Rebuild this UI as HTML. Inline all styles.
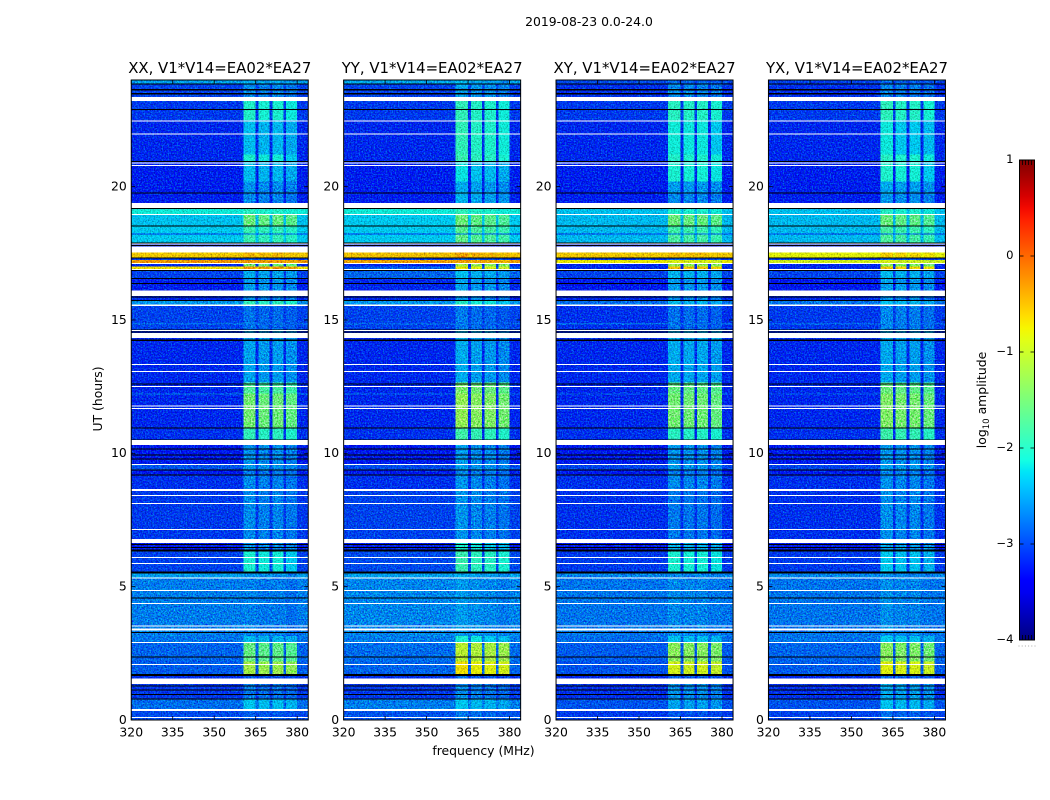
<!DOCTYPE html>
<html lang="en">
<head>
<meta charset="utf-8">
<title>2019-08-23 0.0-24.0</title>
<style>
html,body{margin:0;padding:0;background:#fff;width:1050px;height:800px;overflow:hidden}
svg{display:block;font-family:"DejaVu Sans","Liberation Sans",sans-serif;fill:#000}
text{font-size:12.4px}
.ttl{font-size:14.9px}
.panel{isolation:isolate}
.speckle{mix-blend-mode:overlay}
.glow{mix-blend-mode:screen}
</style>
</head>
<body>
<svg id="fig" xmlns="http://www.w3.org/2000/svg" width="1050" height="800" viewBox="0 0 1050 800">
<defs>
<filter id="grain" x="0" y="0" width="100%" height="100%" color-interpolation-filters="sRGB">
<feTurbulence type="fractalNoise" baseFrequency="0.62" numOctaves="2" seed="7"/>
<feColorMatrix type="matrix" values="1 0 0 0 0  1 0 0 0 0  1 0 0 0 0  0 0 0 0 1"/>
<feComponentTransfer><feFuncR type="linear" slope="1.2" intercept="-0.1"/><feFuncG type="linear" slope="1.2" intercept="-0.1"/><feFuncB type="linear" slope="1.2" intercept="-0.1"/></feComponentTransfer>
</filter>
<filter id="grain-glow" x="0" y="0" width="100%" height="100%" color-interpolation-filters="sRGB">
<feTurbulence type="fractalNoise" baseFrequency="0.66" numOctaves="2" seed="23"/>
<feColorMatrix type="matrix" values="0 0 0 0 0  1.2 0 0 0 -0.5  0 0 0 0 0  0 0 0 0 1"/>
</filter>
<filter id="grain-dark" x="0" y="0" width="100%" height="100%" color-interpolation-filters="sRGB">
<feTurbulence type="fractalNoise" baseFrequency="0.7" numOctaves="2" seed="41"/>
<feColorMatrix type="matrix" values="0 0 0 0 0  0 0 0 0 0  0 0 0 0 0  0.9 0 0 0 -0.39"/>
</filter>
<linearGradient id="jet-grad" x1="0" y1="1" x2="0" y2="0"></linearGradient>
</defs>
<text x="589" y="26" text-anchor="middle">2019-08-23 0.0-24.0</text>
<text x="483.5" y="755" text-anchor="middle">frequency (MHz)</text>
<text transform="translate(102,399) rotate(-90)" text-anchor="middle">UT (hours)</text>
<text transform="translate(986,400) rotate(-90)" text-anchor="middle">log<tspan dy="3" style="font-size:8.6px">10</tspan><tspan dy="-3"> amplitude</tspan></text>
<g id="panels"></g>
<g id="colorbar"></g>
</svg>
<script>
// ---- chart data ----
const panelNames = ["XX", "YY", "XY", "YX"];
const panelTitles = ["XX, V1*V14=EA02*EA27", "YY, V1*V14=EA02*EA27", "XY, V1*V14=EA02*EA27", "YX, V1*V14=EA02*EA27"];
const freqTicks = [320, 335, 350, 365, 380];
const utTicks = [0, 5, 10, 15, 20];
const cbarTicks = [-4, -3, -2, -1, 0, 1];
const cbarLabels = ["\u22124", "\u22123", "\u22122", "\u22121", "0", "1"];
const cbarMinorTicks = [0.2, 0.4, 0.6, 0.8];

// receiver sub-bands (MHz)
const bandLow = [360.5, 366, 371, 376];
const bandHigh = [365, 370, 375, 380];

// start UT (hours) of each brightness segment
const segStart = [0,0.36,0.78,1.55,1.72,2.20,2.92,3.15,5.35,5.56,6.32,6.79,8.66,9.20,9.40,9.56,10.50,10.97,12.20,12.24,12.65,14.65,14.84,14.88,15.59,15.74,16.10,16.57,16.89,17.01,17.13,17.25,17.35,17.53,17.91,18.20,18.24,18.55,18.97,19.39,19.79,20.20,20.96,21.20,22.50,23.36,23.85];

// log10 amplitude outside the sub-bands
const bgXX = [-3.00,-2.80,-3.10,-3.15,-2.90,-2.85,-2.75,-2.70,-2.50,-3.05,-3.30,-3.10,-3.15,-3.30,-2.95,-3.30,-3.15,-3.20,-2.70,-3.20,-3.20,-3.05,-2.80,-3.05,-2.55,-3.20,-3.25,-3.05,-0.70,-3.20,-0.25,-3.10,-0.55,-3.20,-2.25,-3.10,-2.25,-2.30,-2.15,-3.25,-3.25,-3.25,-3.20,-3.20,-3.10,-3.05,-2.50];
const bgYY = [-2.95,-2.70,-3.10,-3.15,-2.85,-2.80,-2.70,-2.65,-2.50,-3.00,-3.25,-3.05,-3.15,-3.30,-3.00,-3.30,-3.15,-3.20,-2.80,-3.20,-3.20,-3.05,-2.85,-3.05,-2.55,-3.20,-3.20,-2.85,-2.90,-3.20,-0.30,-3.10,-0.50,-3.20,-2.25,-3.10,-2.25,-2.25,-2.15,-3.25,-3.25,-3.25,-3.20,-3.20,-3.10,-3.05,-2.45];
const bgXY = [-3.10,-2.95,-3.15,-3.20,-2.95,-2.90,-2.80,-2.75,-2.65,-3.10,-3.35,-3.15,-3.15,-3.30,-3.05,-3.30,-3.15,-3.20,-2.90,-3.20,-3.20,-3.15,-2.80,-3.15,-2.80,-3.20,-3.30,-3.05,-3.20,-3.20,-0.75,-3.10,-0.55,-3.20,-2.35,-3.10,-2.35,-2.35,-2.30,-3.25,-3.25,-3.25,-3.20,-3.20,-3.10,-3.15,-3.00];
const bgYX = [-3.05,-2.95,-3.15,-3.20,-2.90,-2.85,-2.75,-2.75,-2.65,-3.10,-3.35,-3.15,-3.15,-3.30,-3.05,-3.30,-3.15,-3.20,-2.90,-3.20,-3.20,-3.10,-2.85,-3.10,-2.75,-3.20,-3.30,-3.05,-3.20,-3.20,-0.90,-3.10,-0.80,-3.20,-2.35,-3.10,-2.35,-2.35,-2.30,-3.25,-3.25,-3.25,-3.20,-3.20,-3.10,-3.15,-3.05];

// log10 amplitude inside the sub-bands
const bandXX = [-2.85,-2.25,-2.70,-2.90,-1.20,-1.60,-2.30,-2.65,-2.55,-2.10,-2.55,-2.60,-2.60,-2.70,-2.50,-2.55,-1.95,-1.50,-1.50,-1.75,-2.45,-2.75,-2.75,-2.75,-1.95,-2.60,-2.50,-2.40,-0.20,-1.50,-0.25,-2.90,-0.40,-3.20,-1.90,-2.80,-1.90,-1.55,-2.00,-2.60,-2.55,-2.30,-2.10,-2.30,-2.05,-2.60,-2.40];
const bandYY = [-2.75,-2.30,-2.65,-2.85,-0.75,-1.10,-2.15,-2.55,-2.45,-1.95,-2.15,-2.60,-2.60,-2.65,-2.50,-2.55,-1.90,-1.35,-1.35,-1.50,-2.45,-2.75,-2.75,-2.75,-2.10,-2.60,-2.50,-2.35,-0.80,-1.30,-0.30,-2.90,-0.35,-3.20,-1.70,-2.80,-1.75,-1.60,-2.00,-2.40,-2.45,-2.25,-1.95,-2.00,-2.00,-2.50,-2.40];
const bandXY = [-2.90,-2.45,-2.55,-2.85,-0.90,-1.35,-2.25,-2.60,-2.60,-2.10,-2.35,-2.70,-2.60,-2.70,-2.50,-2.55,-2.00,-1.50,-1.50,-1.60,-2.40,-2.75,-2.75,-2.75,-2.30,-2.60,-2.50,-2.35,-0.50,-1.30,-0.85,-2.90,-0.45,-3.20,-1.80,-2.80,-1.85,-1.55,-2.05,-2.60,-2.50,-2.10,-2.05,-2.15,-2.00,-2.60,-2.80];
const bandYX = [-2.80,-2.30,-2.45,-2.80,-0.85,-1.40,-2.25,-2.60,-2.60,-2.25,-2.45,-2.60,-2.60,-2.65,-2.50,-2.55,-1.90,-1.45,-1.45,-1.60,-2.45,-2.65,-2.65,-2.65,-2.30,-2.60,-2.50,-2.35,-0.60,-1.40,-0.90,-2.90,-0.60,-3.20,-1.80,-2.80,-1.85,-1.60,-2.05,-2.55,-2.45,-2.10,-2.05,-2.20,-2.00,-2.65,-2.80];

// per sub-band amplitude offset, one row per polarisation
const bandOffsetXX = [0, -0.06, -0.04, -0.12];
const bandOffsetYY = [0.05, -0.03, -0.07, -0.15];
const bandOffsetXY = [0, -0.03, -0.03, -0.1];
const bandOffsetYX = [0.03, -0.03, -0.03, -0.12];

// flagged time ranges with no data (start, end UT)
const flagStart = [0.075,0.34,1.35,2.06,2.89,3.35,3.51,4.35,4.84,5.32,5.85,6.08,6.64,7.13,8.10,8.41,8.59,9.56,10.31,10.35,11.67,11.77,12.49,13.05,13.31,14.33,14.59,15.53,15.90,16.89,17.10,17.53,17.84,18.93,19.20,20.79,20.87,21.96,22.46,23.21];
const flagEnd   = [0.11,0.41,1.55,2.10,2.92,3.43,3.55,4.38,4.87,5.35,5.88,6.11,6.79,7.16,8.13,8.44,8.66,9.60,10.35,10.50,11.70,11.80,12.53,13.08,13.35,14.52,14.63,15.59,16.10,16.91,17.13,17.75,17.87,18.97,19.39,20.81,20.90,21.99,22.49,23.36];

// zero-amplitude time ranges (start, end UT)
const zeroStart = [0.776,0.9375,1.114,1.268,1.65,2.35,3.28,4.575,5.50,6.31,6.47,6.575,9.19,9.36,9.79,9.94,10.16,10.49,10.95,12.60,14.22,14.54,14.625,15.72,15.86,16.36,16.55,16.85,17.31,17.80,17.87,18.53,19.16,19.76,20.94,22.89,23.46,23.61,23.84];
const zeroEnd   = [0.806,0.967,1.144,1.294,1.725,2.375,3.30,4.60,5.56,6.40,6.49,6.60,9.21,9.39,9.81,9.96,10.19,10.51,10.975,12.625,14.26,14.56,14.65,15.75,15.89,16.39,16.58,16.87,17.35,17.82,17.91,18.55,19.20,19.79,20.96,22.91,23.51,23.66,23.87];

// ---- lookup by polarisation ----
const bgByPanel = [bgXX, bgYY, bgXY, bgYX];
const bandByPanel = [bandXX, bandYY, bandXY, bandYX];
const offsetByPanel = [bandOffsetXX, bandOffsetYY, bandOffsetXY, bandOffsetYX];

// ---- layout ----
const panelLeft = [131.25, 343.65, 556.05, 768.45];
const panelWidth = 177, plotTop = 80, plotBottom = 720;
const freqMin = 320, freqMax = 384, utMin = 0, utMax = 24;
const cbarX0 = 1019.5, cbarX1 = 1034.5, cbarTop = 160, cbarBottom = 640;
const ampMin = -4, ampMax = 1;

const NS = "http://www.w3.org/2000/svg";
function make(parent, tag, attrs) {
  const el = document.createElementNS(NS, tag);
  for (const k in attrs) el.setAttribute(k, attrs[k]);
  parent.appendChild(el);
  return el;
}
function xScale(f, p) { return panelLeft[p] + (f - freqMin) / (freqMax - freqMin) * panelWidth; }
function yScale(t) { return plotBottom - (t - utMin) / (utMax - utMin) * (plotBottom - plotTop); }
function ampY(v) { return cbarBottom - (v - ampMin) / (ampMax - ampMin) * (cbarBottom - cbarTop); }

// matplotlib "jet" lookup
const jetR = [[0,0],[0.35,0],[0.66,1],[0.89,1],[1,0.5]];
const jetG = [[0,0],[0.125,0],[0.375,1],[0.64,1],[0.91,0],[1,0]];
const jetB = [[0,0.5],[0.11,1],[0.34,1],[0.65,0],[1,0]];
function interp(tbl, t) {
  for (let i = 1; i < tbl.length; i++) {
    if (t <= tbl[i][0]) {
      const a = tbl[i-1], b = tbl[i];
      return a[1] + (b[1]-a[1]) * (t-a[0]) / (b[0]-a[0]);
    }
  }
  return tbl[tbl.length-1][1];
}
function jetAt(t) {
  t = Math.max(0, Math.min(1, t));
  return "rgb(" + Math.round(255*interp(jetR,t)) + "," + Math.round(255*interp(jetG,t)) + "," + Math.round(255*interp(jetB,t)) + ")";
}
function ampColor(v) { return jetAt((v - ampMin) / (ampMax - ampMin)); }
// low amplitudes get a small bias because the noise texture adds green on top
function cellColor(v, bias) { return ampColor(v < -2.2 ? v - bias : v); }

// ---- panels ----
const panelsRoot = document.getElementById("panels");
const svgDefs = document.querySelector("defs");

panelNames.forEach(function (name, p) {
  const g = make(panelsRoot, "g", {class: "panel"});
  
  

  const clip = make(svgDefs, "clipPath", {id: "clip-" + name});
  make(clip, "rect", {x: panelLeft[p], y: plotTop, width: panelWidth, height: plotBottom - plotTop});

  const heat = make(g, "g", {"clip-path": "url(#clip-" + name + ")", "shape-rendering": "crispEdges"});
  
  

  const bg = bgByPanel[p], band = bandByPanel[p], off = offsetByPanel[p];
  const x0 = xScale(freqMin, p), x1 = xScale(freqMax, p);
  segStart.forEach(function (t0, i) {
    const t1 = i + 1 < segStart.length ? segStart[i+1] : utMax;
    const yTop = yScale(t1), h = yScale(t0) - yTop;
    const row = make(heat, "rect", {x: x0, y: yTop, width: x1 - x0, height: h, fill: cellColor(bg[i], 0.1)});
    
    
    bandLow.forEach(function (fl, b) {
      const bx0 = xScale(fl, p), bx1 = xScale(bandHigh[b], p);
      const cell = make(heat, "rect", {x: bx0, y: yTop, width: bx1 - bx0, height: h, fill: cellColor(band[i] + off[b], 0.12)});
      
      
    });
  });

  const sp = make(heat, "rect", {x: x0, y: plotTop, width: panelWidth, height: plotBottom - plotTop, filter: "url(#grain)", class: "speckle"});
  
  
  const sg = make(heat, "rect", {x: x0, y: plotTop, width: panelWidth, height: plotBottom - plotTop, filter: "url(#grain-glow)", class: "glow"});
  
  
  const sd = make(heat, "rect", {x: x0, y: plotTop, width: panelWidth, height: plotBottom - plotTop, filter: "url(#grain-dark)"});
  
  

  zeroStart.forEach(function (t0, i) {
    const yTop = yScale(zeroEnd[i]);
    const z = make(heat, "rect", {x: x0, y: yTop, width: x1 - x0, height: Math.max(1, yScale(t0) - yTop), fill: "#000"});
    
    
  });
  flagStart.forEach(function (t0, i) {
    const yTop = yScale(flagEnd[i]);
    const f = make(heat, "rect", {x: x0, y: yTop, width: x1 - x0, height: Math.max(1, yScale(t0) - yTop), fill: "#fff"});
    
    
  });

  // ticks and labels
  freqTicks.forEach(function (f) {
    const x = xScale(f, p);
    const tb = make(g, "line", {x1: x, x2: x, y1: plotBottom, y2: plotBottom - 4, stroke: "#000", "stroke-width": 0.8});
    
    
    const tt = make(g, "line", {x1: x, x2: x, y1: plotTop, y2: plotTop + 4, stroke: "#000", "stroke-width": 0.8});
    
    
    const lab = make(g, "text", {x: x, y: 736.5, "text-anchor": "middle"});
    lab.textContent = f;
    
    
  });
  utTicks.forEach(function (t) {
    const y = yScale(t);
    const tl = make(g, "line", {x1: x0, x2: x0 + 4, y1: y, y2: y, stroke: "#000", "stroke-width": 0.8});
    
    
    const tr = make(g, "line", {x1: x1, x2: x1 - 4, y1: y, y2: y, stroke: "#000", "stroke-width": 0.8});
    
    
    const lab = make(g, "text", {x: x0 - 4.5, y: y + 3.8, "text-anchor": "end"});
    lab.textContent = t;
    
    
  });

  const frame = make(g, "rect", {x: x0, y: plotTop, width: panelWidth, height: plotBottom - plotTop, fill: "none", stroke: "#000", "stroke-width": 1});
  
  

  const title = make(g, "text", {x: x0 + panelWidth / 2, y: 73, "text-anchor": "middle", class: "ttl"});
  title.textContent = panelTitles[p];
  
  
});

// ---- colorbar ----
const grad = document.getElementById("jet-grad");
for (let i = 0; i <= 40; i++) {
  make(grad, "stop", {offset: (i / 40), "stop-color": jetAt(i / 40)});
}
const cb = document.getElementById("colorbar");
const cbRect = make(cb, "rect", {x: cbarX0, y: cbarTop, width: cbarX1 - cbarX0, height: cbarBottom - cbarTop, fill: "url(#jet-grad)", stroke: "#000", "stroke-width": 1});


cbarTicks.forEach(function (v, i) {
  const y = ampY(v);
  const l = make(cb, "line", {x1: cbarX0, x2: cbarX0 + 4, y1: y, y2: y, stroke: "#000", "stroke-width": 0.8});
  
  
  const r = make(cb, "line", {x1: cbarX1, x2: cbarX1 - 4, y1: y, y2: y, stroke: "#000", "stroke-width": 0.8});
  
  
  const lab = make(cb, "text", {x: cbarX0 - 6, y: y + 3, "text-anchor": "end", style: "font-size:11.6px"});
  lab.textContent = cbarLabels[i];
  
  
});
cbarMinorTicks.forEach(function (u) {
  const x = cbarX0 + u * (cbarX1 - cbarX0);
  const a = make(cb, "line", {x1: x, x2: x, y1: cbarTop, y2: cbarTop + 5, stroke: "#000", "stroke-width": 0.8});
  
  
  const b = make(cb, "line", {x1: x, x2: x, y1: cbarBottom, y2: cbarBottom - 5, stroke: "#000", "stroke-width": 0.8});
  
  
});
[0, 0.2, 0.4, 0.6, 0.8, 1].forEach(function (u) {
  const d = make(cb, "rect", {x: cbarX0 - 1 + u * (cbarX1 - cbarX0 + 1), y: 645.5, width: 1, height: 1, fill: "#aaa"});
  
  
});
</script>
</body>
</html>
